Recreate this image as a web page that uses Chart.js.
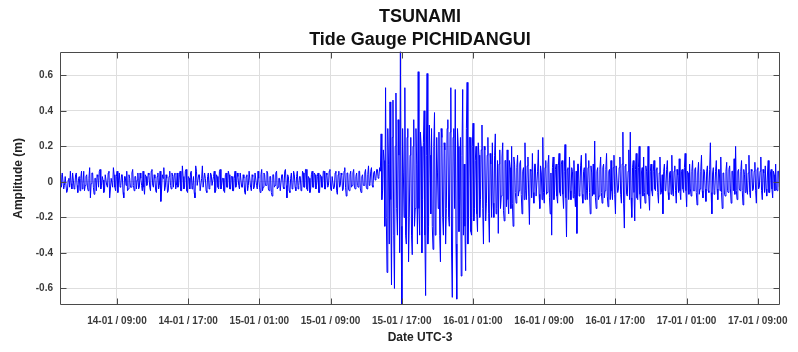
<!DOCTYPE html>
<html><head><meta charset="utf-8">
<script src="https://cdn.jsdelivr.net/npm/chart.js@4/dist/chart.umd.min.js"></script>
<style>html,body{margin:0;padding:0;background:#fff}#wrap{width:798px;height:352px}</style>
</head><body><div id="wrap"><canvas id="c" width="798" height="352"></canvas></div>
<script>
const titleLines = ["TSUNAMI", "Tide Gauge PICHIDANGUI"];
const xAxisTitle = "Date UTC-3";
const yAxisTitle = "Amplitude (m)";
// time axis: hours relative to 14-01 09:00 (UTC-3), 5-minute samples
const startHour = -6.4;
const stepHours = 1 / 12;
const xMin = -6.4, xMax = 74.5;
const yMin = -0.693, yMax = 0.732;
const tickHours = [0, 8, 16, 24, 32, 40, 48, 56, 64, 72];
const tickLabels = ["14-01 / 09:00", "14-01 / 17:00", "15-01 / 01:00", "15-01 / 09:00", "15-01 / 17:00",
  "16-01 / 01:00", "16-01 / 09:00", "16-01 / 17:00", "17-01 / 01:00", "17-01 / 09:00"];
const yTickValues = [-0.6, -0.4, -0.2, 0, 0.2, 0.4, 0.6];
const yTickLabels = ["-0.6", "-0.4", "-0.2", "0", "0.2", "0.4", "0.6"];

// amplitude (m), read from the record
const quietPhase = [
  .04,-.02,-.03,.05,.05,-.04,-.02,.03,.03,-.06,-.05,.01,.02,-.03,.06,-.01,-.04,.05,.01,-.04,
  -.03,.04,.05,-.02,-.06,.02,.03,-.05,.02,.06,-.04,-.01,.06,-.05,-.02,.03,.04,-.03,-.05,.02,
  .08,-.09,-.01,.05,.05,-.03,-.07,.02,.02,-.05,.04,.03,-.03,.06,.07,-.04,-.02,.03,.01,-.06,
  -.05,.04,.04,-.02,-.03,.05,.06,-.09,-.04,.02,.02,-.03,.08,.04,-.03,-.05,.03,.06,-.06,.01,
  .05,-.03,-.02,.04,.04,-.06,-.09,.03,.03,-.02,.06,-.05,-.04,.04,.02,-.03,-.03,.05,.07,-.02,
  -.05,.03,.03,-.04,.01,.05,-.04,-.03,.05,.02,-.02,-.05,.06,-.03,-.07,.04,.03,-.02,-.01,.05,
  .04,-.03,-.05,.06,.07,-.02,-.03,.04,.02,-.05,-.06,.03,.05,-.04,-.02,.06,-.11,-.04,.04,.02,
  .08,-.05,-.03,.04,.02,-.06,-.05,.03,.06,-.02,-.04,.05,.03,-.03,.04,.05,-.04,-.02,.05,-.03,
  -.02,.04,.06,-.05,-.05,.09,.03,-.04,-.03,.06,.07,-.05,-.06,.03,.02,-.04,.05,.06,-.04,-.02,
  .03,-.06,-.09,.09,.06,-.02,-.02,.04,.04,-.05,-.05,.02,.09,-.03,-.03,.05,.02,-.05,-.06,.03,
  .05,-.04,-.03,.05,.04,-.02,-.02,.03,.06,-.06,-.05,.04,.03,-.03,-.04,.06,.07,-.04,-.02,.02,
  .02,-.05,-.06,.04,.05,-.03,-.03,.06,.04,-.04,-.04,.03,.03,-.05,-.05,.02,.06,-.03,-.02,.05,
  .03,-.02,-.04,.05,.05,-.03,-.03,.04,.02,-.06,-.07,.03,.04,-.05,-.02,.06,.06,-.03,-.05,.04,
  .03,-.04,-.03,.05,.05,-.02,-.04,.06,.02,-.03,-.06,.04,.07,-.05,-.03,.05,.04,-.02,-.02,.06,
  .05,-.04,-.05,.03,.03,-.06,-.08,.04,.04,-.03,-.02,.05,.06,-.04,-.03,.02,.02,-.05,-.05,.04,
  .04,-.03,-.04,.06,.07,-.02,-.09,.04,.03,-.05,-.06,.02,.05,-.04,-.03,.06,.04,-.03,-.05,.03,
  .06,-.04,-.02,.03,.03,-.05,-.04,.06,.05,-.03,-.03,.07,.07,-.04,-.05,.03,.02,-.06,-.04,.04,
  .06,-.03,-.03,.05,.04,-.04,-.02,.03,.05,-.06,-.06,.04,.03,-.03,-.03,.06,.06,-.04,-.04,.05,
  .04,-.03,-.02,.06,.07,-.04,-.05,.03,.03,-.04,-.03,.05,.06,-.05,-.07,.04,.06,-.03,-.02,.05,
  .04,-.05,-.04,.06,.08,-.03,-.08,.05,.05,-.04,-.05,.04,.06,-.03,-.02,.05,.07,-.03,-.04,.03,
  .05,-.02,-.03,.06,.06,-.04,-.06,.03,.04,-.02,-.02,.05,.07,-.03,-.04,.04,.09,-.02,-.01,.06,
  .08,-.02,-.03,.05,.06,.01,.02,.07,.07,.02,.03,.08,.06
];
const arrivalPhase = [
  .27,-.10,-.05,.18,.12,-.25,.53,-.20,-.51,.30,.10,-.35,.45,-.10,-.58,.25,.46,-.30,-.60,.20,
  .50,-.15,-.30,.35,.15,-.40,.75,-.25,-.72,.30,.05,-.20,.53,-.30,-.35,.25,.30,-.45,-.20,.15,
  .25,-.30,-.41,.20,.35,-.25,-.15,.30,.10,-.35,.62,-.15,-.30,.28,.20,-.40,-.10,.22,.40,-.30,
  -.64,.15,.61,-.35,-.25,.32,.15,-.18,.30,-.25,-.38,.20,.39,-.30,-.20,.25,.05,-.15,.28,-.30,
  -.45,.30,.25,-.20,-.30,.22,.18,-.35,-.15,.30,.35,-.20,-.25,.28,.53,-.40,-.65,.25,.30,-.15,
  .52,-.35,-.66,.30,.20,-.28,-.10,.25,-.53,.15,.52,-.30,.10,-.25,-.50,.30,.56,-.35,-.20,.25,
  .25,-.28,-.30,.20,.33,-.22
];
const decayPhase = [
  -.15,.12,.20,-.18,-.28,.22,.15,-.20,-.10,.18,.32,-.15,-.35,.20,.18,-.22,-.12,.15,.25,-.18,
  -.34,.16,.10,-.20,.22,-.12,-.20,.15,.27,-.18,-.15,.12,-.29,.10,.18,-.15,-.08,.14,.22,-.16,
  -.22,.12,.12,-.14,.18,-.10,-.18,.12,.08,-.15,.20,-.12,-.25,.14
];
const ringingPhase = [
  .10,-.06,-.12,.08,.15,-.08,-.05,.10,.12,-.07,-.18,.06,.08,-.10,.22,-.05,-.10,.09,.14,-.08,
  -.24,.07,.06,-.09,.16,-.06,-.12,.10,.10,-.08,-.08,.06,.18,-.07,-.15,.09,.05,-.10,.25,-.06,
  -.12,.08,.12,-.07,-.06,.10,.15,-.09,-.18,.05,-.30,.08,.14,-.10,-.05,.07,.10,-.08,-.12,.09,
  .16,-.06,-.08,.10,.12,-.07,-.15,.06,.21,-.09,-.31,.07,.08,-.10,.14,-.05,-.10,.08,.06,-.09,
  .12,-.07,-.14,.06,-.29,.10,.10,-.08,-.06,.09,.15,-.07,-.12,.06,.08,-.10,.16,-.05,-.10,.08,
  .12,-.06,-.18,.09,.05,-.08,.10,-.07,.23,-.09,-.15,.06,.08,-.10,-.08,.07,.14,-.06,-.12,.08,
  .10,-.09,-.05,.07,.16,-.08,-.14,.06,.07,-.10,.12,-.05,-.10,.08,.15,-.07,-.18,.09,.09,-.06,
  -.04,.08,.14,-.07,-.12,.10,.28,-.12,-.26,.09,.10,-.07,-.08,.06,.18,-.10,.28,-.09,-.20,.08,
  .12,-.06,-.22,.07,.16,-.09,-.10,.08,.20,-.07,-.15,.05,.08,-.08,.14,-.06,-.12,.09,.06,-.07,
  .20,-.08,-.16,.06
];
const latePhase = [
  .10,-.05,-.08,.06,.12,-.04,-.05,.07,.08,-.06,-.12,.05,.14,-.07,-.06,.04,-.18,.06,.10,-.05,
  -.04,.07,.12,-.06,-.10,.05,.06,-.07,.15,-.04,-.08,.06,.09,-.05,-.12,.07,.04,-.06,.13,-.05,
  -.10,.06,.07,-.04,-.06,.08,.16,-.05,-.14,.06,.05,-.07,.10,-.04,-.08,.06,.12,-.05,-.05,.07,
  .08,-.06,-.13,.05,.11,-.07,-.04,.06,.15,-.05,-.09,.07,.06,-.04,-.11,.06,.09,-.05,-.06,.07,
  .22,-.06,-.18,.05,.08,-.07,-.05,.06,.12,-.04,-.10,.07,.07,-.05,.14,-.06,-.15,.05,.05,-.07,
  -.08,.06,.11,-.05,-.06,.07,.09,-.04,-.12,.06,.06,-.05,.13,-.07,.20,-.05,-.10,.06,.07,-.04,
  -.05,.06,.12,-.05,-.13,.07,.04,-.06,.10,-.04,-.07,.05,.15,-.06,-.09,.07,.06,-.05,-.04,.06,
  .11,-.05,-.12,.07,.08,-.04,-.03,.06,.14,-.05,-.10,.07,.05,-.06,.09,-.04,-.08,.05,.12,-.06,
  -.06,.05,.07,-.04,-.09,.06,.04,-.05,.10,-.04,-.05,.06,.06,-.03
];

const amplitude = [].concat(quietPhase, arrivalPhase, decayPhase, ringingPhase, latePhase);
const points = amplitude.map((v, i) => ({ x: startHour + i * stepHours, y: v }));

const FONT = "'Liberation Sans', Arial, Helvetica, sans-serif";
const GRID = '#dedede';
const FRAME = '#4a4a4a';

const framePlugin = {
  id: 'frame',
  afterDatasetsDraw(chart) {
    const { ctx, chartArea: a, scales: { x, y } } = chart;
    const L = Math.round(a.left) + 0.5, R = Math.round(a.right) - 0.5;
    const T = Math.round(a.top) + 0.5, B = Math.round(a.bottom) - 0.5;
    ctx.save();
    ctx.strokeStyle = FRAME;
    ctx.lineWidth = 1;
    ctx.beginPath();
    ctx.rect(L, T, R - L, B - T);
    const len = 6;
    tickHours.forEach(v => {
      const px = Math.round(x.getPixelForValue(v)) + 0.5;
      ctx.moveTo(px, B); ctx.lineTo(px, B - len);
      ctx.moveTo(px, T); ctx.lineTo(px, T + len);
    });
    yTickValues.forEach(v => {
      const py = Math.round(y.getPixelForValue(v)) + 0.5;
      ctx.moveTo(L, py); ctx.lineTo(L + len, py);
      ctx.moveTo(R, py); ctx.lineTo(R - len, py);
    });
    ctx.stroke();
    ctx.restore();
  }
};

new Chart(document.getElementById('c'), {
  type: 'line',
  data: {
    datasets: [{
      data: points,
      borderColor: '#0000ff',
      borderWidth: 1,
      pointRadius: 0,
      tension: 0,
      fill: false
    }]
  },
  options: {
    responsive: false,
    animation: false,
    devicePixelRatio: 1,
    layout: { padding: { left: 0, right: 8, top: 0, bottom: 0 } },
    plugins: {
      legend: { display: false },
      tooltip: { enabled: false },
      title: {
        display: true,
        text: titleLines,
        fullSize: false,
        color: '#111',
        font: { family: FONT, size: 18, weight: 'bold', lineHeight: 1.3 },
        padding: { top: 5, bottom: 0 }
      }
    },
    scales: {
      x: {
        type: 'linear',
        min: xMin, max: xMax,
        afterBuildTicks: s => { s.ticks = tickHours.map(v => ({ value: v })); },
        afterFit: s => { s.height = 47; },
        grid: { color: GRID, drawTicks: false, lineWidth: 1 },
        border: { display: false },
        ticks: {
          autoSkip: false, maxRotation: 0, padding: 10,
          color: '#3a3a3a',
          font: { family: FONT, size: 10, weight: 'bold' },
          callback: v => tickLabels[tickHours.indexOf(v)]
        },
        title: {
          display: true, text: xAxisTitle, color: '#222',
          font: { family: FONT, size: 12, weight: 'bold', lineHeight: 1.2 },
          padding: { top: 0, bottom: 7 }
        }
      },
      y: {
        type: 'linear',
        min: yMin, max: yMax,
        afterBuildTicks: s => { s.ticks = yTickValues.map(v => ({ value: v })); },
        afterFit: s => { s.width = 60; },
        grid: { color: GRID, drawTicks: false, lineWidth: 1 },
        border: { display: false },
        ticks: {
          autoSkip: false, padding: 7,
          color: '#3a3a3a',
          font: { family: FONT, size: 10, weight: 'bold' },
          callback: v => yTickLabels[yTickValues.indexOf(v)]
        },
        title: {
          display: true, text: yAxisTitle, color: '#222',
          font: { family: FONT, size: 12, weight: 'bold', lineHeight: 1.2 },
          padding: { top: 11, bottom: 0 }
        }
      }
    }
  },
  plugins: [framePlugin]
});
</script>
</body></html>
